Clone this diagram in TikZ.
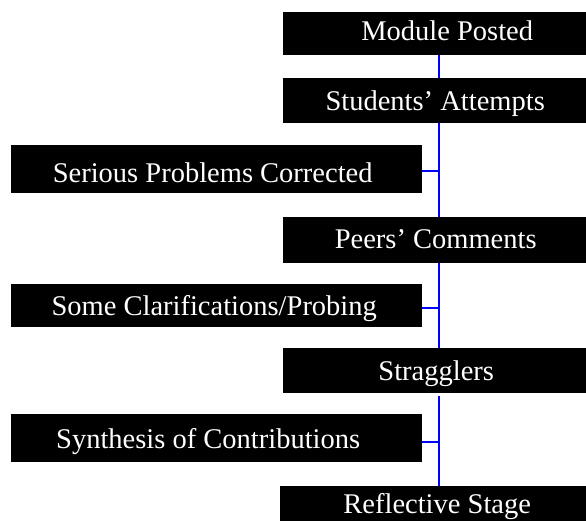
\documentclass[tikz,border=0pt]{standalone}
\usepackage{fontspec}
\setmainfont{Liberation Serif}
\begin{document}
\begin{tikzpicture}[x=1pt,y=-1pt,
  stagebox/.style={fill=black,text=white,inner sep=0pt,anchor=north west,
    font=\fontsize{28.5}{30}\selectfont,text height=19pt,text depth=0pt},
  spine/.style={draw={rgb,255:red,0;green,0;blue,255},line width=2pt},
]
\useasboundingbox (0,0) rectangle (586,521);
\coordinate (sp) at (439,0);
\node[stagebox,minimum width=328pt,minimum height=43pt,text depth=6pt] (b1) at (283,12) {Module Posted};
\node[stagebox,minimum width=304pt,minimum height=45pt] (b2) at (283,78) {Students’ Attempts};
\node[stagebox,minimum width=411pt,minimum height=48pt,text height=26pt] (b3) at (11,145) {Serious Problems Corrected\hspace*{8pt}};
\node[stagebox,minimum width=305pt,minimum height=46pt,text depth=3pt] (b4) at (283,217) {Peers’ Comments};
\node[stagebox,minimum width=411pt,minimum height=43pt] (b5) at (11,284) {Some Clarifications/Probing\hspace*{5pt}};
\node[stagebox,minimum width=306pt,minimum height=45pt] (b6) at (283,348) {Stragglers};
\node[stagebox,minimum width=411pt,minimum height=48pt,text height=20pt] (b7) at (11,414) {Synthesis of Contributions\hspace*{17pt}};
\node[stagebox,minimum width=314pt,minimum height=45pt,text depth=10pt] (b8) at (280,486) {Reflective Stage};
\draw[spine] (b1.south -| sp) -- (b2.north -| sp);
\draw[spine] (b2.south -| sp) -- (b4.north -| sp);
\draw[spine] (b4.south -| sp) -- (b6.north -| sp);
\draw[spine,shorten <=3pt] (b6.south -| sp) -- (b8.north -| sp);
\draw[spine] ([yshift=-2pt]b3.east) -- ([yshift=-2pt]b3.east -| sp);
\draw[spine] ([yshift=-2pt]b5.east) -- ([yshift=-2pt]b5.east -| sp);
\draw[spine] ([yshift=-4pt]b7.east) -- ([yshift=-4pt]b7.east -| sp);
\end{tikzpicture}
\end{document}
